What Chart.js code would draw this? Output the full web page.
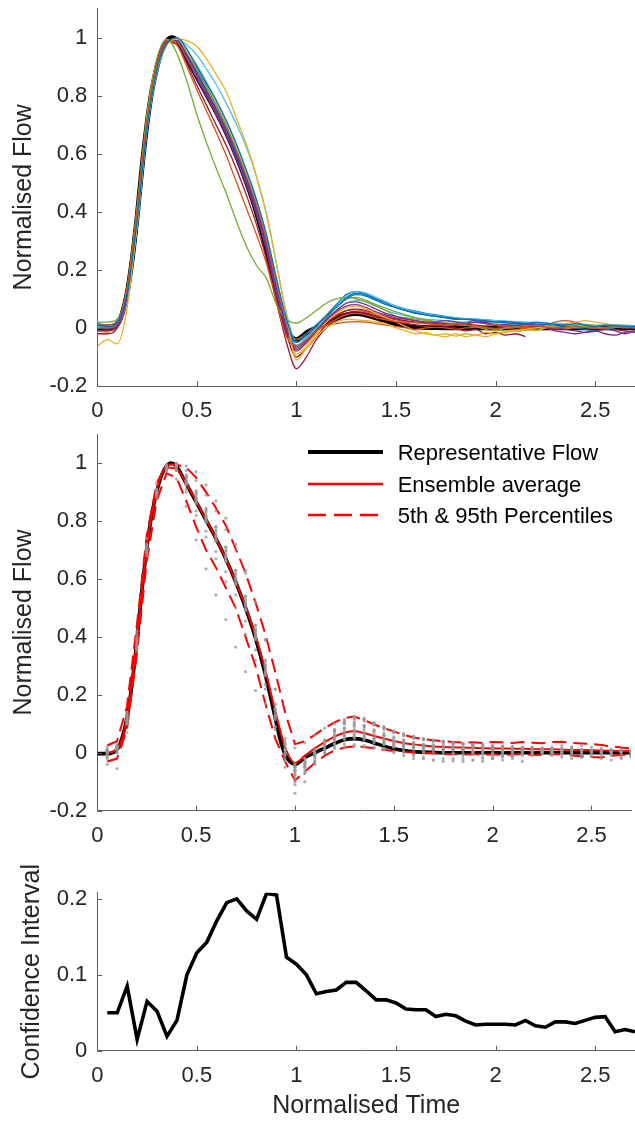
<!DOCTYPE html>
<html><head><meta charset="utf-8">
<script src="https://cdn.jsdelivr.net/npm/chart.js@4.4.1/dist/chart.umd.min.js"></script>
<style>
html,body{margin:0;padding:0;background:#fff;width:635px;height:1121px;overflow:hidden}
.box{position:absolute;left:0;width:635px}
#legend{position:absolute;left:0;top:0;width:635px;height:0;font-family:"Liberation Sans",Arial,Helvetica,sans-serif;font-size:22px;color:#000}
</style></head><body>
<div class="box" style="top:0;height:421px"><canvas id="c1"></canvas></div>
<div class="box" style="top:421px;height:424px"><canvas id="c2"></canvas></div>
<div class="box" style="top:845px;height:276px"><canvas id="c3"></canvas></div>
<div id="legend"></div>
<script>
// ---------- data ----------
const T = [0,0.05,0.1,0.15,0.2,0.25,0.3,0.35,0.4,0.45,0.5,0.55,0.6,0.65,0.7,0.75,0.8,0.85,0.9,0.95,1,1.05,1.1,1.15,1.2,1.25,1.3,1.35,1.4,1.45,1.5,1.55,1.6,1.65,1.7,1.75,1.8,1.85,1.9,1.95,2,2.05,2.1,2.15,2.2,2.25,2.3,2.35,2.4,2.45,2.5,2.55,2.6,2.65,2.7];
const xTicks = [0,0.5,1,1.5,2,2.5];
const yTicksFlow = [-0.2,0,0.2,0.4,0.6,0.8,1];
const yTicksCI = [0,0.1,0.2];

const flow01 = [0.01,0.005,0.02,0.12,0.37,0.69,0.89,0.98,
 1.0,0.96,0.9,0.84,0.78,0.71,0.63,0.54,0.44,0.32,0.17,0.03,
 -0.05,-0.02,0.01,0.04,0.07,0.1,0.115,0.11,0.095,0.08,
 0.07,0.06,0.052,0.045,0.04,0.036,0.032,0.03,0.028,0.025,0.02,0.022,0.018,0.015,0.02,0.017,0.012,0.01,0.015,0.01,0.005,0.01,0.008,0.006,0.005];
const flow02 = [0.0,0.0,0.02,0.14,0.41,0.72,0.91,0.99,
 0.975,0.9,0.82,0.745,0.67,0.59,0.5,0.41,0.32,0.22,0.09,-0.03,
 -0.06,-0.04,-0.01,0.01,0.03,0.045,0.05,0.045,0.035,0.028,
 0.022,0.02,0.018,0.015,0.012,0.01,0.014,0.01,0.005,0.008,0.012,0.006,0.002,0.005,0.008,0.004,0.0,0.003,0.006,0.002,-0.002,0.0,0.004,0.002,0.0];
const flow03 = [-0.063,-0.04,-0.055,0.07,0.36,0.69,0.89,0.975,
 0.995,0.99,0.97,0.925,0.87,0.81,0.72,0.63,0.52,0.39,0.22,0.04,
 -0.11,-0.07,-0.03,0.0,0.02,0.03,0.028,0.025,0.02,0.015,
 0.0,-0.01,-0.02,-0.015,-0.025,-0.02,-0.028,-0.02,-0.025,-0.015,-0.02,-0.01,-0.012,-0.005,0.0,0.005,0.002,null,null,null,null,null,null,null,null];
const flow04 = [-0.01,-0.01,0.01,0.11,0.37,0.7,0.9,0.985,
 0.99,0.94,0.88,0.815,0.75,0.68,0.6,0.51,0.41,0.28,0.13,0.0,
 -0.08,-0.05,-0.01,0.03,0.06,0.085,0.09,0.08,0.065,0.05,
 0.04,0.032,0.025,0.02,0.018,0.015,0.012,0.015,0.02,0.018,0.01,0.005,0.008,0.012,0.01,0.005,0.0,-0.005,-0.01,-0.015,-0.012,-0.005,-0.01,-0.02,-0.01];
const flow05 = [0.02,0.02,0.03,0.14,0.42,0.74,0.93,0.995,
 0.945,0.85,0.735,0.635,0.545,0.46,0.365,0.28,0.215,0.17,0.08,0.03,
 0.017,0.035,0.06,0.085,0.1,0.105,0.1,0.09,0.075,0.06,
 0.04,0.035,0.03,0.025,0.02,0.015,0.012,0.01,0.005,-0.005,-0.01,0.0,0.005,0.008,0.01,0.006,0.004,0.0,0.002,0.005,0.003,0.0,0.002,0.004,0.003];
const flow06 = [0.0,0.005,0.015,0.1,0.35,0.68,0.88,0.975,
 0.995,0.975,0.94,0.89,0.835,0.77,0.7,0.62,0.52,0.39,0.22,0.05,
 -0.05,-0.03,0.0,0.035,0.075,0.11,0.125,0.12,0.105,0.09,
 0.075,0.065,0.055,0.048,0.042,0.04,0.035,0.032,0.03,0.028,0.025,0.024,0.022,0.02,0.018,0.016,0.015,0.014,0.01,0.008,0.007,0.01,0.008,0.006,0.005];
const flow07 = [-0.02,-0.02,0.0,0.1,0.36,0.69,0.895,0.985,
 0.975,0.91,0.835,0.765,0.695,0.625,0.545,0.455,0.355,0.235,0.09,-0.05,
 -0.14,-0.1,-0.04,0.0,0.03,0.05,0.055,0.05,0.04,0.03,
 0.02,0.015,0.01,0.005,0.01,0.005,0.0,-0.01,-0.005,-0.02,-0.015,-0.025,-0.02,-0.03,null,null,null,null,null,null,null,null,null,null,null];
const flow08 = [0.0,0.0,0.015,0.13,0.39,0.71,0.9,0.985,
 0.99,0.935,0.875,0.81,0.745,0.675,0.595,0.505,0.405,0.28,0.13,0.0,
 -0.05,-0.03,0.0,0.04,0.08,0.115,0.125,0.115,0.1,0.085,
 0.07,0.06,0.05,0.045,0.04,0.035,0.03,0.03,0.025,0.022,0.02,0.018,0.015,0.012,0.01,0.012,0.01,0.005,0.0,-0.005,-0.01,-0.005,0.0,null,null];
const flow09 = [0.01,0.01,0.02,0.12,0.38,0.7,0.9,0.99,
 0.985,0.93,0.87,0.81,0.745,0.675,0.6,0.515,0.42,0.3,0.15,0.01,
 -0.04,-0.02,0.0,0.01,0.015,0.02,0.022,0.02,0.015,0.01,
 0.005,0.0,-0.005,0.0,0.003,0.0,-0.004,0.0,0.002,0.0,-0.003,0.0,0.002,0.0,0.0,0.003,0.0,-0.002,0.0,0.002,0.0,0.0,0.002,0.0,0.0];
const flow10 = [-0.01,-0.015,0.0,0.1,0.36,0.69,0.89,0.98,
 0.995,0.95,0.895,0.835,0.77,0.7,0.62,0.53,0.43,0.305,0.15,0.01,
 -0.09,-0.06,-0.02,0.02,0.05,0.07,0.075,0.065,0.05,0.035,
 0.02,0.005,-0.01,-0.02,-0.025,-0.03,-0.02,-0.03,-0.025,-0.03,-0.02,-0.015,-0.01,-0.005,-0.01,0.0,0.01,0.015,0.02,0.025,0.02,0.015,0.01,0.008,0.005];
const flow11 = [0.01,0.01,0.025,0.13,0.4,0.72,0.91,0.99,
 0.985,0.925,0.86,0.795,0.73,0.66,0.58,0.49,0.39,0.265,0.115,-0.01,
 -0.07,-0.045,-0.01,0.025,0.055,0.075,0.08,0.07,0.055,0.045,
 0.035,0.03,0.025,0.02,0.022,0.025,0.02,0.015,0.02,0.015,0.01,0.012,0.015,0.01,0.005,0.0,-0.01,-0.015,-0.02,-0.015,-0.01,-0.02,-0.025,-0.015,-0.01];
const flow12 = [0.0,0.01,0.02,0.125,0.385,0.705,0.9,0.985,
 0.99,0.94,0.88,0.82,0.755,0.685,0.605,0.515,0.415,0.29,0.14,0.01,
 -0.04,-0.02,0.01,0.045,0.08,0.1,0.105,0.095,0.08,0.068,
 0.055,0.045,0.035,0.028,0.022,0.018,0.015,0.01,0.005,0.0,-0.005,-0.01,-0.012,-0.008,-0.005,0.0,0.005,0.008,0.01,0.012,0.01,0.008,0.006,0.005,0.004];
const flow13 = [0.005,0.0,0.01,0.11,0.37,0.7,0.895,0.98,
 0.995,0.955,0.905,0.845,0.78,0.71,0.63,0.54,0.44,0.315,0.165,0.02,
 -0.06,-0.035,0.0,0.03,0.06,0.085,0.095,0.09,0.075,0.06,
 0.05,0.042,0.035,0.03,0.028,0.025,0.022,0.02,0.018,0.015,0.014,0.012,0.01,0.01,0.008,0.01,0.012,0.01,0.008,0.006,0.008,0.01,0.012,0.01,0.008];
const flow14 = [-0.01,-0.005,0.01,0.115,0.375,0.7,0.9,0.985,
 0.99,0.935,0.87,0.805,0.735,0.665,0.585,0.495,0.395,0.27,0.12,-0.02,
 -0.1,-0.07,-0.03,0.01,0.04,0.06,0.065,0.06,0.05,0.04,
 0.03,0.025,0.02,0.018,0.015,0.012,0.01,0.012,0.01,0.005,0.0,0.005,0.01,0.008,0.005,0.0,-0.005,0.0,0.005,0.008,0.005,0.0,-0.005,-0.01,-0.015];
const flow15 = [0.015,0.01,0.02,0.11,0.36,0.69,0.89,0.98,
 0.995,0.95,0.89,0.83,0.765,0.695,0.615,0.525,0.425,0.3,0.15,0.01,
 -0.065,-0.04,-0.005,0.035,0.075,0.105,0.12,0.115,0.1,0.088,
 0.075,0.065,0.058,0.05,0.045,0.04,0.035,0.032,0.03,0.028,0.025,0.022,0.02,0.018,0.015,0.012,0.01,0.012,0.01,0.008,0.006,0.008,0.006,0.005,0.004];
const flow16 = [0.005,0.005,0.02,0.13,0.395,0.715,0.905,0.99,
 0.985,0.93,0.865,0.8,0.735,0.665,0.585,0.495,0.4,0.275,0.125,-0.005,
 -0.075,-0.05,-0.015,0.02,0.045,0.06,0.062,0.055,0.045,0.035,
 0.028,0.022,0.018,0.015,0.012,0.01,0.015,0.02,0.025,0.02,0.01,0.0,-0.005,0.0,0.005,0.01,0.02,0.025,0.02,0.01,0.005,0.0,0.005,0.008,0.005];
const flows = [flow01,flow02,flow03,flow04,flow05,flow06,flow07,flow08,flow09,flow10,flow11,flow12,flow13,flow14,flow15,flow16];

// representative flow (thick black)
const repTime = [0,0.05,0.1,0.125,0.15,0.175,0.2,0.225,0.25,0.275,0.3,0.325,0.35,0.375,0.4,0.45,0.5,0.55,0.6,0.65,0.7,0.75,0.8,0.85,0.9,0.925,0.95,0.975,1,1.025,1.05,1.1,1.15,1.2,1.25,1.3,1.35,1.4,1.45,1.5,1.55,1.6,1.7,1.8,2,2.2,2.4,2.6,2.7];
const repFlow = [-0.003,-0.003,0.011,0.05,0.12,0.235,0.384,0.556,0.705,0.82,0.9,0.958,0.99,1.0,0.99,0.929,0.866,0.803,0.74,0.67,0.59,0.5,0.396,0.27,0.12,0.046,-0.006,-0.031,-0.04,-0.031,-0.017,0.0,0.016,0.032,0.045,0.049,0.044,0.034,0.023,0.014,0.008,0.004,0.001,0,0,0,0,0,0];

// ensemble statistics at t = 0.05 ... 2.7
const ensAvg = [0.0,0.012,0.12,0.39,0.71,0.905,0.985,0.98,0.93,0.87,0.805,0.74,0.67,0.59,0.505,0.405,0.285,0.145,0.02,
 -0.035,-0.01,0.015,0.037,0.056,0.069,0.074,0.068,0.058,0.049,0.041,0.034,0.029,0.025,0.022,0.02,0.019,0.018,0.017,0.016,
 0.015,0.015,0.014,0.014,0.013,0.012,0.012,0.011,0.01,0.01,0.009,0.008,0.007,0.006,0.005];
const pct95 = [0.025,0.04,0.16,0.44,0.75,0.93,0.995,0.995,0.985,0.95,0.9,0.845,0.785,0.705,0.62,0.52,0.41,0.28,0.14,
 0.03,0.04,0.062,0.085,0.105,0.12,0.125,0.113,0.098,0.085,0.074,0.062,0.053,0.047,0.043,0.04,0.037,0.035,0.036,0.034,
 0.037,0.036,0.034,0.037,0.035,0.033,0.037,0.038,0.034,0.032,0.03,0.027,0.022,0.018,0.015];
const pct05 = [-0.03,-0.02,0.08,0.34,0.66,0.87,0.965,0.95,0.87,0.78,0.7,0.64,0.57,0.5,0.4,0.3,0.17,0.05,-0.03,
 -0.095,-0.065,-0.035,-0.01,0.008,0.018,0.022,0.02,0.016,0.01,0.006,0.003,0.002,0.0,-0.002,-0.004,-0.005,-0.006,-0.004,-0.007,
 -0.005,-0.008,-0.006,-0.004,-0.008,-0.007,-0.004,-0.005,-0.009,-0.012,-0.015,-0.016,-0.01,-0.008,-0.006];
const confInt = [0.050,0.050,0.085,0.015,0.065,0.052,0.019,0.040,0.100,0.129,0.143,0.171,0.195,0.200,0.184,0.173,0.207,0.205,0.123,
 0.114,0.100,0.075,0.078,0.080,0.090,0.090,0.079,0.067,0.067,0.063,0.055,0.054,0.054,0.045,0.048,0.046,0.039,0.034,0.035,
 0.035,0.035,0.034,0.040,0.033,0.031,0.038,0.038,0.036,0.040,0.044,0.045,0.025,0.028,0.025];
const statTime = T.slice(1);

// ---------- styling ----------
const FONT = '"Liberation Sans", Arial, Helvetica, sans-serif';
const TEXT = '#262626';
const AXIS = '#5f5f5f';
const COLORS = ['#0072BD','#D95319','#EDB120','#7E2F8E','#77AC30','#4DBEEE','#A2142F'];
Chart.defaults.font.family = FONT;
Chart.defaults.color = TEXT;

const fmt = v => String(Math.round(v * 100) / 100);
const pts = (xs, ys) => xs.map((x, i) => ({x, y: ys[i]})).filter(p => p.y !== null && p.y !== undefined);

const inwardTicks = {
  id: 'inwardTicks',
  afterDraw(chart) {
    const {ctx, chartArea: a, scales: {x, y}} = chart;
    ctx.save();
    ctx.strokeStyle = AXIS; ctx.lineWidth = 1;
    ctx.beginPath();
    x.ticks.forEach(t => { const px = Math.round(x.getPixelForValue(t.value)) + 0.5; ctx.moveTo(px, a.bottom); ctx.lineTo(px, a.bottom - 5); });
    y.ticks.forEach(t => { const py = Math.round(y.getPixelForValue(t.value)) + 0.5; ctx.moveTo(a.left, py); ctx.lineTo(a.left + 5, py); });
    ctx.stroke();
    ctx.restore();
  }
};

function xScale(h, showTitle) {
  return {
    type: 'linear', min: 0, max: 2.7,
    afterBuildTicks: s => { s.ticks = xTicks.map(v => ({value: v})); },
    afterFit: s => { s.height = h; s.paddingLeft = 0; s.paddingRight = 0; },
    grid: {display: false, drawTicks: false},
    border: {display: true, color: AXIS, width: 1},
    ticks: {font: {size: 22}, color: TEXT, padding: 12, maxRotation: 0, autoSkip: false, callback: fmt},
    title: showTitle ? {display: true, text: 'Normalised Time', font: {size: 25}, color: TEXT, padding: {top: 0, bottom: 0}} : {display: false}
  };
}
function yScale(min, max, ticksArr, title, titlePad) {
  return {
    type: 'linear', min, max,
    afterBuildTicks: s => { s.ticks = ticksArr.map(v => ({value: v})); },
    afterFit: s => { s.width = 97.3; s.paddingTop = 0; s.paddingBottom = 0; },
    grid: {display: false, drawTicks: false},
    border: {display: true, color: AXIS, width: 1},
    ticks: {font: {size: 22}, color: TEXT, padding: 10, callback: fmt},
    title: {display: true, text: title, font: {size: 25}, color: TEXT, padding: {top: titlePad, bottom: 0}}
  };
}
function baseOptions(top, xs, ys) {
  return {
    responsive: true, maintainAspectRatio: false, devicePixelRatio: 1, animation: false, events: [],
    layout: {padding: {left: 0, right: 0, top: top, bottom: 0}},
    plugins: {legend: {display: false}, tooltip: {enabled: false}},
    scales: {x: xs, y: ys}
  };
}

// ---------- chart 1: individual waveforms ----------
const ds1 = flows.map((f, i) => ({
  label: 'Waveform ' + (i + 1), data: pts(T, f), showLine: true, pointRadius: 0,
  borderColor: COLORS[i % COLORS.length], borderWidth: 1.3, cubicInterpolationMode: 'monotone'
}));
ds1.push({label: 'Representative Flow', data: pts(repTime, repFlow), showLine: true, pointRadius: 0,
  borderColor: '#000', borderWidth: 4.8, cubicInterpolationMode: 'monotone'});
new Chart(document.getElementById('c1'), {
  type: 'scatter', data: {datasets: ds1},
  options: baseOptions(8.6, xScale(35, false), yScale(-0.2, 1.1, yTicksFlow, 'Normalised Flow', 9)),
  plugins: [inwardTicks]
});

// ---------- chart 2: ensemble ----------
const samples = [];
flows.forEach(f => { for (let i = 1; i < T.length; i++) if (f[i] !== null) samples.push({x: T[i], y: f[i]}); });
const repDS = {label: 'Representative Flow', data: pts(repTime, repFlow), showLine: true, pointRadius: 0,
  borderColor: '#000', borderWidth: 3.6, cubicInterpolationMode: 'monotone'};
const avgDS = {label: 'Ensemble average', data: pts(statTime, ensAvg), showLine: true, pointRadius: 0,
  borderColor: '#ff0000', borderWidth: 2, cubicInterpolationMode: 'monotone'};
const p95DS = {label: '5th & 95th Percentiles', data: pts(statTime, pct95), showLine: true, pointRadius: 0,
  borderColor: '#ff0000', borderWidth: 2, borderDash: [14, 7], tension: 0};
const p05DS = {label: '5th & 95th Percentiles', data: pts(statTime, pct05), showLine: true, pointRadius: 0,
  borderColor: '#ff0000', borderWidth: 2, borderDash: [14, 7], tension: 0};
const dotsDS = {label: 'Samples', data: samples, showLine: false, pointRadius: 1.6, pointBorderWidth: 0,
  pointBackgroundColor: 'rgba(150,150,150,0.75)'};
new Chart(document.getElementById('c2'), {
  type: 'scatter', data: {datasets: [dotsDS, p95DS, p05DS, avgDS, repDS]},
  options: baseOptions(13.2, xScale(34.3, false), yScale(-0.2, 1.1, yTicksFlow, 'Normalised Flow', 9)),
  plugins: [inwardTicks]
});

// legend (HTML, taken from the datasets)
const legendEl = document.getElementById('legend');
const rowTops = [437, 469, 500.3];
[repDS, avgDS, p95DS].forEach((ds, i) => {
  const row = document.createElement('div');
  row.style.cssText = 'position:absolute;left:0;top:' + rowTops[i] + 'px;height:32px;line-height:32px;white-space:nowrap;width:635px';
  const dash = ds.borderDash ? ' stroke-dasharray="18 8"' : '';
  row.innerHTML = '<svg width="76" height="32" style="position:absolute;left:308px;top:0">' +
    '<line x1="0" y1="15" x2="75" y2="15" stroke="' + ds.borderColor + '" stroke-width="' + (i === 0 ? 4 : 2.5) + '"' + dash + '/></svg>' +
    '<span style="position:absolute;left:397.7px;top:0">' + ds.label + '</span>';
  legendEl.appendChild(row);
});

// ---------- chart 3: confidence interval ----------
new Chart(document.getElementById('c3'), {
  type: 'scatter',
  data: {datasets: [{label: 'Confidence Interval', data: pts(statTime, confInt), showLine: true, pointRadius: 0,
    borderColor: '#000', borderWidth: 3.6, tension: 0}]},
  options: baseOptions(47.7, xScale(70.2, true), yScale(0, 0.208, yTicksCI, 'Confidence Interval', 17.4)),
  plugins: [inwardTicks]
});
</script>
</body></html>
